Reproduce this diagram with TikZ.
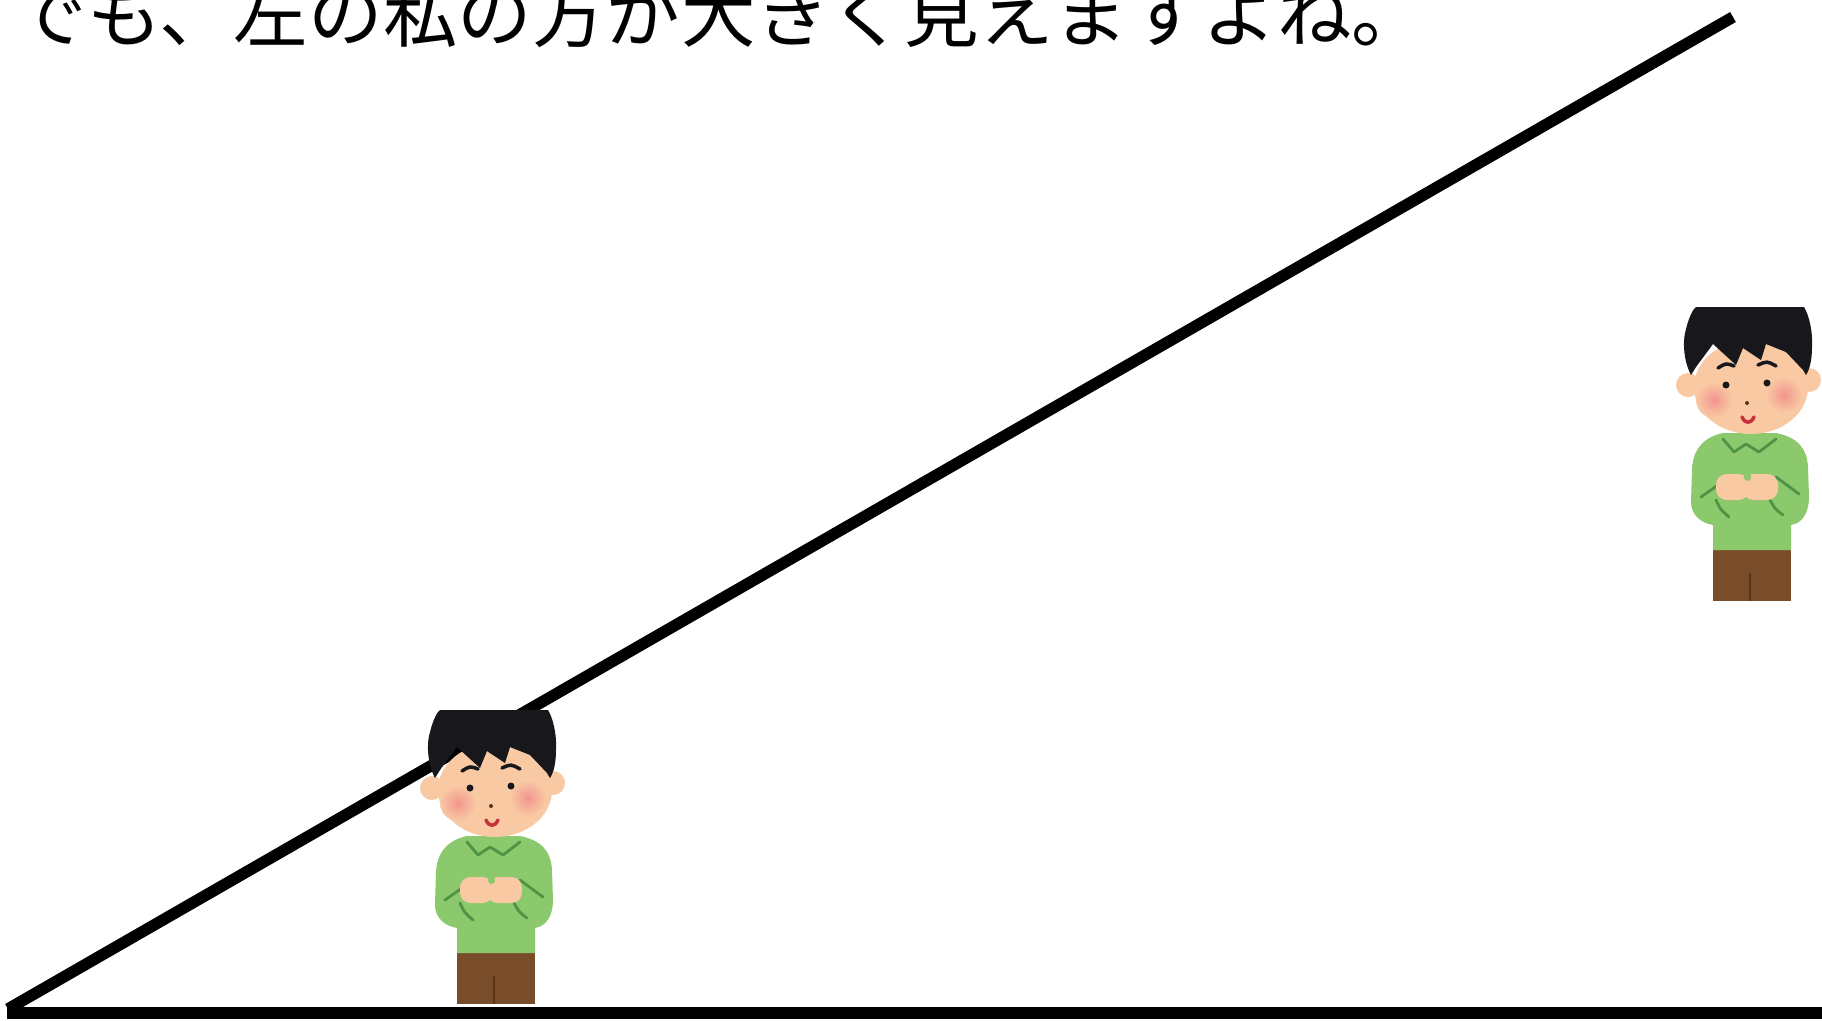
\documentclass[tikz,border=0pt]{standalone}
\usepackage{fontspec}
\newfontfamily\jp{Noto Sans CJK JP}
\definecolor{Skin}{HTML}{F8C9A2}
\definecolor{Blush}{HTML}{F3948F}
\definecolor{Hair}{HTML}{18181C}
\definecolor{Sweater}{HTML}{8CC86C}
\definecolor{SweaterLine}{HTML}{4E9444}
\definecolor{Pants}{HTML}{7A4D2A}
\definecolor{PantsLine}{HTML}{5A3418}
\definecolor{Mouth}{HTML}{C8323C}

% one boy, drawn in pixel units; #1 shifts him
\newcommand\drawboy[1]{%
  \begin{scope}[shift={#1}]
    % trousers
    \fill[Pants] (457,950) rectangle (535,1004);
    \draw[PantsLine,line width=0.6pt] (494,976) -- (494,1004);
    % sweater
    \fill[Sweater] (467,836) .. controls (448,840) and (437,852) .. (436,872)
      -- (435,905) .. controls (435,918) and (445,926) .. (457,928)
      -- (457,953) -- (535,953) -- (535,928)
      .. controls (547,926) and (553,915) .. (553,900)
      -- (552,870) .. controls (551,850) and (540,840) .. (520,836) -- cycle;
    \draw[crease] (467,842) -- (478,855) -- (490,847) -- (503,855) -- (520,842);
    \draw[crease] (445,900) -- (462,888);
    \draw[crease] (460,903) .. controls (464,912) .. (473,920);
    \draw[crease] (520,880) -- (543,897);
    \draw[crease] (514,903) .. controls (519,912) .. (527,918);
    % hands
    \fill[Skin,rounded corners=3pt] (460,877) rectangle (493,903);
    \fill[Skin,rounded corners=3pt] (487,877) rectangle (522,903);
    \fill[Sweater,rounded corners=1pt] (488,876) rectangle (495,884);
    % head
    \fill[Skin] (432,788) circle[radius=12] (553,783) circle[radius=12];
    \fill[Skin] (495,790) ellipse[x radius=57,y radius=47];
    \shade[inner color=Blush,outer color=Skin] (458,803) circle[radius=18];
    \shade[inner color=Blush,outer color=Skin] (528,798) circle[radius=18];
    \fill[Hair] (435,778) .. controls (428,765) and (426,745) .. (430,732)
      .. controls (433,720) and (437,712) .. (440,710) -- (548,710)
      .. controls (553,718) and (557,735) .. (556,750)
      .. controls (556,762) and (554,772) .. (550,778)
      -- (547,773) -- (530,755) -- (510,747) -- (505,763) -- (487,751)
      -- (480,768) -- (457,747) -- (440,770) -- cycle;
    \draw[brow] (462,771) .. controls (470,766) .. (478,769);
    \draw[brow] (502,768) .. controls (511,764) .. (520,769);
    \fill[Hair] (470,788) circle[radius=3.5] (511,786) circle[radius=3.5];
    \fill[PantsLine] (491,806) circle[radius=2];
    \draw[Mouth,line width=1pt,line cap=round]
      (486,820) .. controls (489,827) and (495,827) .. (498,820);
  \end{scope}}

\begin{document}
\begin{tikzpicture}[x=0.1mm,y=-0.1mm,
    rule/.style={line width=1.15mm},
    crease/.style={draw=SweaterLine,line width=0.8pt,line cap=round,line join=round},
    brow/.style={draw=Hair,line width=1pt,line cap=round}]
  \useasboundingbox (0,0) rectangle (1822,1020);
  \clip (0,0) rectangle (1822,1020);
  \fill[white] (0,0) rectangle (1822,1020);

  \coordinate (corner) at (8,1009);
  \coordinate (apex) at (1733,17);
  \coordinate (baseL) at (7,1013);
  \coordinate (baseR) at (1822,1013);
  \draw[rule] (corner) -- (apex);
  \draw[rule,line width=1.2mm] (baseL) -- (baseR);

  \drawboy{(0,0)}
  \drawboy{(1256,-403)}

  \node[anchor=base west,inner sep=0,font=\jp\fontsize{21.2pt}{25pt}\selectfont]
    (caption) at (12,41) {でも、左の私の方が大きく見えますよね。};
\end{tikzpicture}
\end{document}
